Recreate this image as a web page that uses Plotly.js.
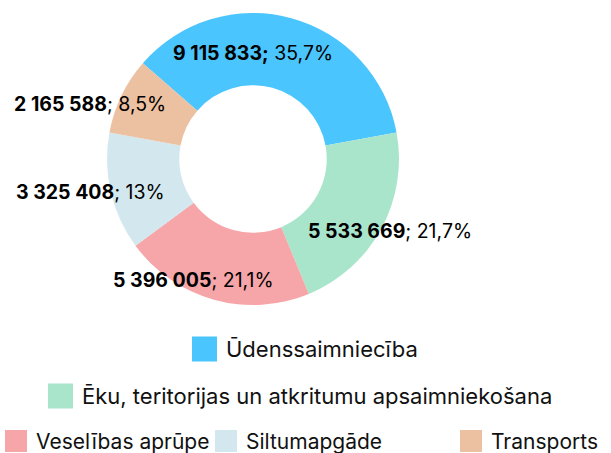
<!DOCTYPE html>
<html><head><meta charset="utf-8">
<script src="https://cdn.plot.ly/plotly-3.0.1.min.js"></script>
<style>html,body{margin:0;padding:0;background:#fff}#chart{width:611px;height:453px}</style>
</head><body><div id="chart"></div>
<script>
var categories = ["Ūdenssaimniecība", "Ēku, teritorijas un atkritumu apsaimniekošana", "Veselības aprūpe", "Siltumapgāde", "Transports"];
var values = [9115833, 5533669, 5396005, 3325408, 2165588];
var valueLabels = ["9 115 833;", "5 533 669", "5 396 005", "3 325 408", "2 165 588"];
var percentLabels = ["35,7%", "21,7%", "21,1%", "13%", "8,5%"];
var colors = ["#4bc5fd", "#a9e5cb", "#f6a6a8", "#d3e8ee", "#ecc1a1"];

var W = 611, H = 453;
// data-label anchor positions in pixels [x, y]
var labelPos = [[253, 53], [390, 231], [193, 280], [90, 192], [90, 104]];
// custom legend layout: swatch left x, row centre y, swatch size, font size (pixels)
var legendPos = [[192, 349, 25, 22], [48, 396, 25, 22], [5, 441, 22, 21], [215, 441, 22, 21], [460, 441, 22, 21]];

var FONT = "Inter, 'Noto Sans', sans-serif";
function px(x){ return x / W; }
function py(y){ return 1 - y / H; }

var annotations = categories.map(function(c, i){
  var sep = (i === 0) ? "" : ";";
  return {
    xref: "paper", yref: "paper", x: px(labelPos[i][0]), y: py(labelPos[i][1]),
    xanchor: "center", yanchor: "middle", showarrow: false,
    text: "<b>" + valueLabels[i] + "</b>" + sep + " " + percentLabels[i],
    font: {family: FONT, size: 19.5, color: "#000"}
  };
});
var shapes = [];
categories.forEach(function(c, i){
  var p = legendPos[i], s = p[2];
  shapes.push({type: "rect", xref: "paper", yref: "paper",
    x0: px(p[0]), x1: px(p[0] + s), y0: py(p[1] + s/2), y1: py(p[1] - s/2),
    fillcolor: colors[i], line: {width: 0}});
  annotations.push({xref: "paper", yref: "paper", x: px(p[0] + s + 7), y: py(p[1]),
    xanchor: "left", yanchor: "middle", showarrow: false, text: c,
    font: {family: FONT, size: p[3], color: "#111"}});
});

var R = 146, CX = 253, CY = 159;
var trace = {
  type: "pie", labels: categories, values: values, hole: 0.505,
  sort: false, direction: "clockwise", rotation: -49,
  marker: {colors: colors, line: {color: "#fff", width: 0}},
  textinfo: "none", textposition: "none", hoverinfo: "label+value+percent",
  domain: {x: [px(CX - R), px(CX + R)], y: [py(CY + R), py(CY - R)]}
};

var layout = {
  width: W, height: H,
  margin: {l: 0, r: 0, t: 0, b: 0, pad: 0},
  paper_bgcolor: "#fff",
  showlegend: false,
  annotations: annotations,
  shapes: shapes
};
Plotly.newPlot("chart", [trace], layout, {displayModeBar: false, staticPlot: true});
</script></body></html>
